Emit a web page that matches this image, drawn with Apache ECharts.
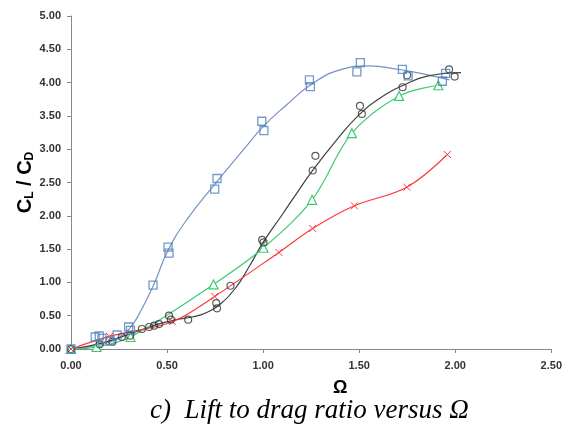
<!DOCTYPE html>
<html>
<head>
<meta charset="utf-8">
<script src="https://cdn.jsdelivr.net/npm/echarts@6/dist/echarts.min.js"></script>
<style>
html,body{margin:0;padding:0;background:#fff}
#chart{width:565px;height:429px}
</style>
</head>
<body>
<div id="chart"></div>
<script>
// 数据
var blueSquares = [[0,0],[0.126,0.18],[0.147,0.195],[0.161,0.16],[0.204,0.12],[0.24,0.21],
    [0.30,0.33],[0.31,0.28],[0.427,0.96],[0.505,1.53],[0.51,1.44],[0.748,2.40],[0.76,2.56],
    [0.993,3.42],[1.004,3.28],[1.241,4.04],[1.246,3.94],[1.488,4.16],[1.506,4.30],
    [1.725,4.20],[1.755,4.10],[1.933,4.02],[1.95,4.14]];
var blueFit = [[0,0],[0.15,0.06],[0.25,0.17],[0.3,0.29],[0.35,0.5],[0.43,0.96],[0.5,1.45],
    [0.6,1.93],[0.75,2.48],[0.9,3.0],[1.0,3.34],[1.12,3.66],[1.25,3.97],[1.4,4.19],[1.55,4.25],
    [1.7,4.2],[1.85,4.12],[1.97,4.04]];
var blackCircles = [[0,0],[0.149,0.07],[0.216,0.11],[0.265,0.18],[0.308,0.2],[0.369,0.30],
    [0.407,0.33],[0.433,0.35],[0.458,0.375],[0.51,0.50],[0.52,0.44],[0.61,0.44],[0.756,0.69],
    [0.76,0.61],[0.83,0.95],[0.995,1.64],[1.002,1.60],[1.258,2.68],[1.272,2.90],[1.504,3.65],
    [1.514,3.53],[1.726,3.93],[1.75,4.11],[1.968,4.20],[1.997,4.09]];
var blackFit = [[0,0],[0.15,0.08],[0.3,0.22],[0.45,0.37],[0.55,0.44],[0.63,0.48],[0.7,0.54],
    [0.78,0.68],[0.86,0.93],[0.93,1.25],[1.0,1.6],[1.1,2.02],[1.18,2.36],[1.26,2.69],
    [1.38,3.13],[1.5,3.52],[1.6,3.75],[1.73,3.96],[1.86,4.1],[2.03,4.15]];
var greenTri = [[0,0],[0.133,0.03],[0.31,0.18],[0.742,0.97],[1.002,1.52],[1.255,2.24],
    [1.462,3.24],[1.708,3.80],[1.912,3.96]];
var redX = [[0,0],[0.2,0.19],[0.528,0.41],[0.748,0.79],[1.082,1.45],[1.258,1.81],
    [1.475,2.15],[1.748,2.43],[1.959,2.92]];
var yTicks = ['0.00','0.50','1.00','1.50','2.00','2.50','3.00','3.50','4.00','4.50','5.00'];

var chart = echarts.init(document.getElementById('chart'));
var lblFont = {color:'#333', fontSize:11, fontWeight:'bold', fontFamily:'Liberation Sans'};
var xPath = 'path://M0,0L10,10M10,0L0,10';

chart.setOption({
    animation:false,
    grid:{left:71, right:13, top:16, bottom:80},
    xAxis:{
        type:'value', min:0, max:2.5, interval:0.5,
        axisLine:{lineStyle:{color:'#888'}},
        axisTick:{show:true, length:4, lineStyle:{color:'#888'}},
        splitLine:{show:false},
        axisLabel:Object.assign({margin:11, formatter:function(v){return v.toFixed(2);}}, lblFont)
    },
    yAxis:{
        type:'value', min:0, max:5, interval:0.5,
        axisLine:{show:true, lineStyle:{color:'#888'}},
        axisTick:{show:true, length:4, lineStyle:{color:'#888'}},
        splitLine:{show:false},
        axisLabel:Object.assign({margin:10, formatter:function(v){return yTicks[Math.round(v*2)];}}, lblFont),
        name:'{a|C}{s|L}{a| / C}{s|D}',
        nameLocation:'middle', nameGap:35, nameRotate:90, nameMoveOverlap:false,
        nameTextStyle:{rich:{
            a:{fontSize:20, fontWeight:'bold', color:'#000', fontFamily:'Liberation Sans', lineHeight:22},
            s:{fontSize:12, fontWeight:'bold', color:'#000', fontFamily:'Liberation Sans', verticalAlign:'bottom', lineHeight:22, padding:[9,0,0,0]}
        }}
    },
    graphic:[
        {type:'text', left:333, top:379, style:{text:'Ω', font:'bold 18px "Liberation Sans"', fill:'#000'}},
        {type:'text', left:150, top:397, style:{text:'c)  Lift to drag ratio versus Ω', font:'italic 27px "Liberation Serif"', fill:'#000'}}
    ],
    series:[
        {type:'line', data:blueFit, smooth:true, showSymbol:false, lineStyle:{color:'#7592C4', width:1.2}, z:2},
        {type:'line', data:blackFit, smooth:true, showSymbol:false, lineStyle:{color:'#404040', width:1.2}, z:2},
        {type:'line', data:greenTri, smooth:0.35, symbol:'triangle', symbolSize:9,
            lineStyle:{color:'#3CCB70', width:1.2}, itemStyle:{color:'#fff', borderColor:'#3CCB70', borderWidth:1.2}, z:3},
        {type:'line', data:redX, smooth:0.35, symbol:xPath, symbolSize:7,
            lineStyle:{color:'#FF3838', width:1.2}, itemStyle:{color:'none', borderColor:'#FF3838', borderWidth:1}, z:3},
        {type:'scatter', data:blackCircles, symbol:'circle', symbolSize:7,
            itemStyle:{color:'rgba(255,255,255,0)', borderColor:'#333', borderWidth:1.2}, z:4},
        {type:'scatter', data:blueSquares, symbol:'rect', symbolSize:8,
            itemStyle:{color:'rgba(255,255,255,0)', borderColor:'#4F81BD', borderWidth:1.3}, z:4}
    ]
});
</script>
</body>
</html>
